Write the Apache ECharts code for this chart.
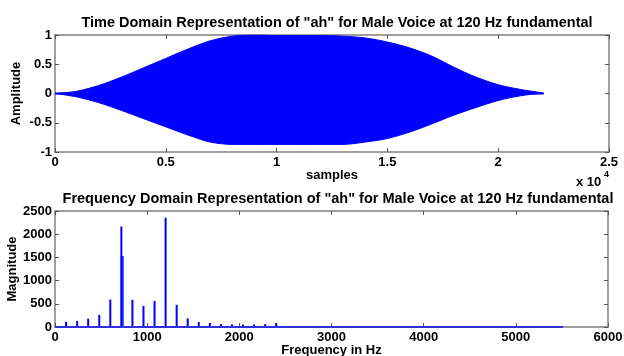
<!DOCTYPE html>
<html>
<head>
<meta charset="utf-8">
<script src="https://cdn.jsdelivr.net/npm/echarts@6/dist/echarts.min.js"></script>
<style>
html,body{margin:0;padding:0;background:#fff;}
#main{width:624px;height:356px;}
</style>
</head>
<body>
<div id="main"></div>
<script>
// time domain envelope (sample index, amplitude)
var envSamples = [0,1000,2000,3000,4000,5000,6000,7000,8000,9000,10000,11000,12000,13000,14000,15000,16000,17000,18000,19000,20000,21000,22000,22050];
var envUpper   = [0,0.04,0.14,0.28,0.44,0.60,0.76,0.90,0.98,1.00,0.99,0.99,0.99,0.98,0.95,0.88,0.78,0.64,0.45,0.28,0.15,0.07,0.01,0];
var envLower   = [0,-0.06,-0.16,-0.29,-0.43,-0.57,-0.71,-0.83,-0.87,-0.87,-0.87,-0.87,-0.87,-0.87,-0.83,-0.77,-0.66,-0.52,-0.37,-0.24,-0.12,-0.04,0,0];

// spectrum: harmonics of 120 Hz
var harmFreq = [120,240,360,480,600,720,840,960,1080,1200,1320,1440,1560,1680,1800,1920,2040,2160,2280,2400];
var harmMag  = [115,132,178,262,592,2165,585,456,560,2355,478,187,108,86,65,57,50,55,60,86];
var sideFreq = [725];
var sideMag  = [1530];
var floorEnd = 5512;

var timeXTicks = [0,0.5,1,1.5,2,2.5];   // x 10^4

var chart = echarts.init(document.getElementById('main'));

function zip(a, b){
    var out = [];
    for(var i=0;i<a.length;i++){ out.push([a[i], b[i]]); }
    return out;
}

var FONT = 'Liberation Sans';
var lineGray = '#808080';
var labelStyle = {color:'#000', fontFamily:FONT, fontWeight:'bold', fontSize:13};
var titleStyle = {fontFamily:FONT, fontWeight:'bold', fontSize:14.5, color:'#000'};

function boxAxis(gridIndex, pos, extra){
    var ax = {
        gridIndex: gridIndex,
        type: 'value',
        position: pos,
        nameMoveOverlap: false,
        axisLine: {show:true, onZero:false, lineStyle:{color:lineGray, width:1.5}},
        axisTick: {show:true, inside:true, length:4, lineStyle:{color:'#555'}},
        splitLine: {show:false},
        axisLabel: {show:false}
    };
    for(var k in extra){ ax[k] = extra[k]; }
    return ax;
}

function plainLabel(margin){
    return {show:true, margin:margin, color:'#000', fontFamily:FONT, fontWeight:'bold', fontSize:13,
        formatter: function(v){ return String(v); }};
}

var option = {
    animation: false,
    backgroundColor: '#fff',
    title: [{
        text: 'Time Domain Representation of "ah" for Male Voice at 120 Hz fundamental',
        left: 332, top: 10, textAlign: 'center',
        textStyle: titleStyle
    },{
        text: 'Frequency Domain Representation of "ah" for Male Voice at 120 Hz fundamental',
        left: 333, top: 186, textAlign: 'center',
        textStyle: titleStyle
    }],
    grid: [
        {left:55, top:35, right:15, height:117, containLabel:false, outerBoundsMode:'none'},
        {left:55, top:211, right:16, height:116, containLabel:false, outerBoundsMode:'none'}
    ],
    xAxis: [
        boxAxis(0, 'bottom', {
            min:0, max:25000, interval:5000,
            name:'samples', nameLocation:'middle', nameGap:17,
            nameTextStyle: labelStyle,
            axisLabel: {show:true, margin:4, color:'#000', fontFamily:FONT, fontWeight:'bold', fontSize:13,
                formatter: function(v){ return String(timeXTicks[Math.round(v/5000)]); }}
        }),
        boxAxis(0, 'top', {min:0, max:25000, interval:5000}),
        boxAxis(1, 'bottom', {
            min:0, max:6000, interval:1000,
            name:'Frequency in Hz', nameLocation:'middle', nameGap:17,
            nameTextStyle: labelStyle,
            axisLabel: plainLabel(4)
        }),
        boxAxis(1, 'top', {min:0, max:6000, interval:1000})
    ],
    yAxis: [
        boxAxis(0, 'left', {
            min:-1, max:1, interval:0.5,
            name:'Amplitude', nameLocation:'middle', nameGap:32,
            nameTextStyle: labelStyle,
            axisLabel: plainLabel(3)
        }),
        boxAxis(0, 'right', {min:-1, max:1, interval:0.5}),
        boxAxis(1, 'left', {
            min:0, max:2500, interval:500,
            name:'Magnitude', nameLocation:'middle', nameGap:36,
            nameTextStyle: labelStyle,
            axisLabel: plainLabel(3)
        }),
        boxAxis(1, 'right', {min:0, max:2500, interval:500})
    ],
    series: [{
        type:'line', xAxisIndex:0, yAxisIndex:0,
        data: zip(envSamples, envUpper),
        smooth: 0.3, symbol:'none',
        lineStyle:{color:'#0000ff', width:1},
        areaStyle:{color:'#0000ff', opacity:1}
    },{
        type:'line', xAxisIndex:0, yAxisIndex:0,
        data: zip(envSamples, envLower),
        smooth: 0.3, symbol:'none',
        lineStyle:{color:'#0000ff', width:1},
        areaStyle:{color:'#0000ff', opacity:1}
    },{
        // the trace itself along zero, closes the seam between the two halves
        type:'line', xAxisIndex:0, yAxisIndex:0,
        data: [[envSamples[0],0],[envSamples[envSamples.length-1],0]],
        symbol:'none',
        lineStyle:{color:'#0000ff', width:2}
    },{
        type:'line', xAxisIndex:2, yAxisIndex:2,
        data: [[0,0],[floorEnd,0]],
        symbol:'none',
        lineStyle:{color:'#3030e0', width:2}
    },{
        type:'bar', xAxisIndex:2, yAxisIndex:2,
        data: zip(sideFreq, sideMag),
        barWidth: 3,
        itemStyle:{color:'#3a3aff'}
    },{
        type:'bar', xAxisIndex:2, yAxisIndex:2,
        data: zip(harmFreq, harmMag),
        barWidth: 2, barGap:'-100%',
        itemStyle:{color:'#0000ff'}
    }],
    graphic: [{
        type:'text', left:576, top:176,
        style:{text:'x 10', fill:'#000', font:'bold 13px "Liberation Sans"'}
    },{
        type:'text', left:604, top:170,
        style:{text:'4', fill:'#000', font:'bold 9px "Liberation Sans"'}
    }]
};

chart.setOption(option);
</script>
</body>
</html>
